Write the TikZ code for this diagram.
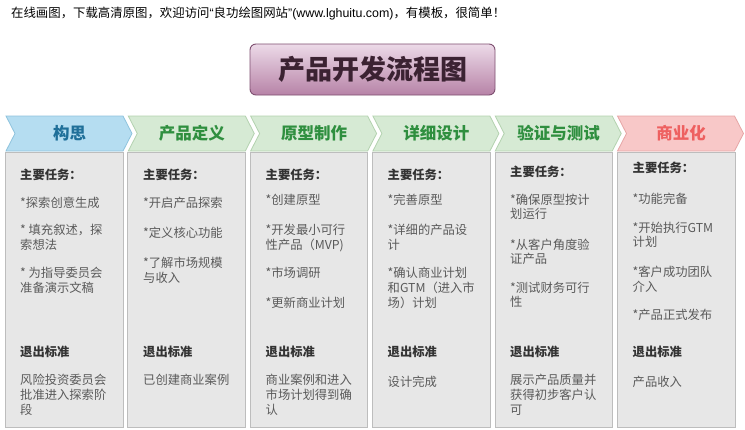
\documentclass[tikz,border=0pt]{standalone}
\usepackage{fontspec}
\setmainfont{Noto Sans CJK SC}
\newfontfamily\latfont{Liberation Sans}
\definecolor{bodytxt}{HTML}{5A5A5A}
\definecolor{headtxt}{HTML}{333333}
\definecolor{boxfill}{HTML}{E7E7E7}
\definecolor{boxline}{HTML}{BDBDBD}
\definecolor{cbf}{HTML}{B5DDF1}
\definecolor{cbd}{HTML}{8EC3DD}
\definecolor{cbt}{HTML}{1F6F99}
\definecolor{cgf}{HTML}{D6EAD4}
\definecolor{cgd}{HTML}{B3D2AF}
\definecolor{cgt}{HTML}{2F8F3F}
\definecolor{crf}{HTML}{F8C8C8}
\definecolor{crd}{HTML}{E6A5A5}
\definecolor{crt}{HTML}{EE6060}
\definecolor{ttop}{HTML}{ECDAE8}
\definecolor{tbot}{HTML}{B783A7}
\definecolor{tline}{HTML}{7E4F70}
\definecolor{ttxt}{HTML}{3B2232}
\tikzset{
  body/.style={anchor=base west, inner sep=0pt, font=\fontsize{12.3}{15}\selectfont, text=bodytxt},
  head/.style={anchor=base west, inner sep=0pt, font=\fontsize{12.3}{15}\selectfont\bfseries, text=headtxt},
  colbox/.style={fill=boxfill, draw=boxline, line width=0.8pt, inner sep=0pt, anchor=north west,
    minimum width=117.5pt, minimum height=275pt},
  chevtxt/.style={font=\fontsize{16.5}{18}\selectfont\bfseries, inner sep=0pt},
  titlebox/.style={draw=tline, line width=0.9pt, rounded corners=6pt, top color=ttop, bottom color=tbot,
    minimum width=245pt, minimum height=51pt, font=\fontsize{27}{30}\selectfont\bfseries, text=ttxt},
  toptext/.style={anchor=base west, inner sep=0pt, font=\fontsize{12.4}{15}\selectfont, text=black},
}
\begin{document}
\begin{tikzpicture}[x=1pt,y=-1pt]
\useasboundingbox (0,0) rectangle (745,429);
\fill[white] (0,0) rectangle (745,429);

\node[toptext] (top) at (11,17.5) {在线画图，下载高清原图，欢迎访问{\latfont“}良功绘图网站{\latfont”(www.lghuitu.com)}，有模板，很简单！};

\node[titlebox] (title) at (372.5,69.5) {产品开发流程图};

% column boxes
\foreach \i in {0,...,5}{
  \pgfmathsetmacro\bx{5+122.4*\i}
  \node[colbox] (box\i) at (\bx,152) {};
}

% chevrons
\foreach \i/\lbl/\fc/\dc/\tc in {0/构思/cbf/cbd/cbt, 1/产品定义/cgf/cgd/cgt, 2/原型制作/cgf/cgd/cgt,
    3/详细设计/cgf/cgd/cgt, 4/验证与测试/cgf/cgd/cgt, 5/商业化/crf/crd/crt}{
  \pgfmathsetmacro\xl{6+122.3*\i}
  \draw[fill=\fc, draw=\dc, line width=0.8pt, line join=miter]
    (\xl,116) -- (\xl+117,116) -- (\xl+126,133.5) -- (\xl+117,151) -- (\xl,151) -- (\xl+9,133.5) -- cycle;
  \node[chevtxt, text=\tc] (chev\i) at (\xl+63.5,133.5) {\lbl};
}

% column 1
\foreach \yy/\txt [count=\k] in {203/{*探索创意生成}, 230/{* 填充叙述，探}, 245/{索想法},
    273/{* 为指导委员会}, 288/{准备演示文稿}, 380/{风险投资委员会}, 395/{批准进入探索阶}, 410/{段}}
  \node[body] (a\k) at (20,\yy+4.5) {\txt};
\node[head] (ah1) at (20,179.5) {主要任务：};
\node[head] (ah2) at (20,356.5) {退出标准};

% column 2
\foreach \yy/\txt [count=\k] in {203/{*开启产品探索}, 233/{*定义核心功能}, 263/{*了解市场规模},
    278/{与收入}, 380/{已创建商业案例}}
  \node[body] (b\k) at (143,\yy+4.5) {\txt};
\node[head] (bh1) at (143,179.5) {主要任务：};
\node[head] (bh2) at (143,356.5) {退出标准};

% column 3
\foreach \yy/\txt [count=\k] in {200/{*创建原型}, 230/{*开发最小可行}, 245/{性产品（MVP)},
    273/{*市场调研}, 303/{*更新商业计划}, 380/{商业案例和进入}, 395/{市场计划得到确}, 410/{认}}
  \node[body] (c\k) at (265.5,\yy+4.5) {\txt};
\node[head] (ch1) at (265.5,179.5) {主要任务：};
\node[head] (ch2) at (265.5,356.5) {退出标准};

% column 4
\foreach \yy/\txt [count=\k] in {200/{*完善原型}, 230/{*详细的产品设}, 245/{计},
    273/{*确认商业计划}, 288/{和GTM（进入市}, 303/{场）计划}, 382/{设计完成}}
  \node[body] (d\k) at (387.5,\yy+4.5) {\txt};
\node[head] (dh1) at (387.5,179.5) {主要任务：};
\node[head] (dh2) at (387.5,356.5) {退出标准};

% column 5
\foreach \yy/\txt [count=\k] in {200/{*确保原型按计}, 214/{划运行}, 245/{*从客户角度验},
    259/{证产品}, 288/{*测试财务可行}, 302/{性}, 380/{展示产品质量并}, 395/{获得初步客户认}, 410/{可}}
  \node[body] (e\k) at (510,\yy+4.5) {\txt};
\node[head] (eh1) at (510,176.5) {主要任务：};
\node[head] (eh2) at (510,356.5) {退出标准};

% column 6
\foreach \yy/\txt [count=\k] in {199/{*功能完备}, 228/{*开始执行GTM}, 242/{计划},
    272/{*客户成功团队}, 287/{介入}, 315/{*产品正式发布}, 382/{产品收入}}
  \node[body] (f\k) at (632.5,\yy+4.5) {\txt};
\node[head] (fh1) at (632.5,172.5) {主要任务：};
\node[head] (fh2) at (632.5,356.5) {退出标准};
\end{tikzpicture}
\end{document}
